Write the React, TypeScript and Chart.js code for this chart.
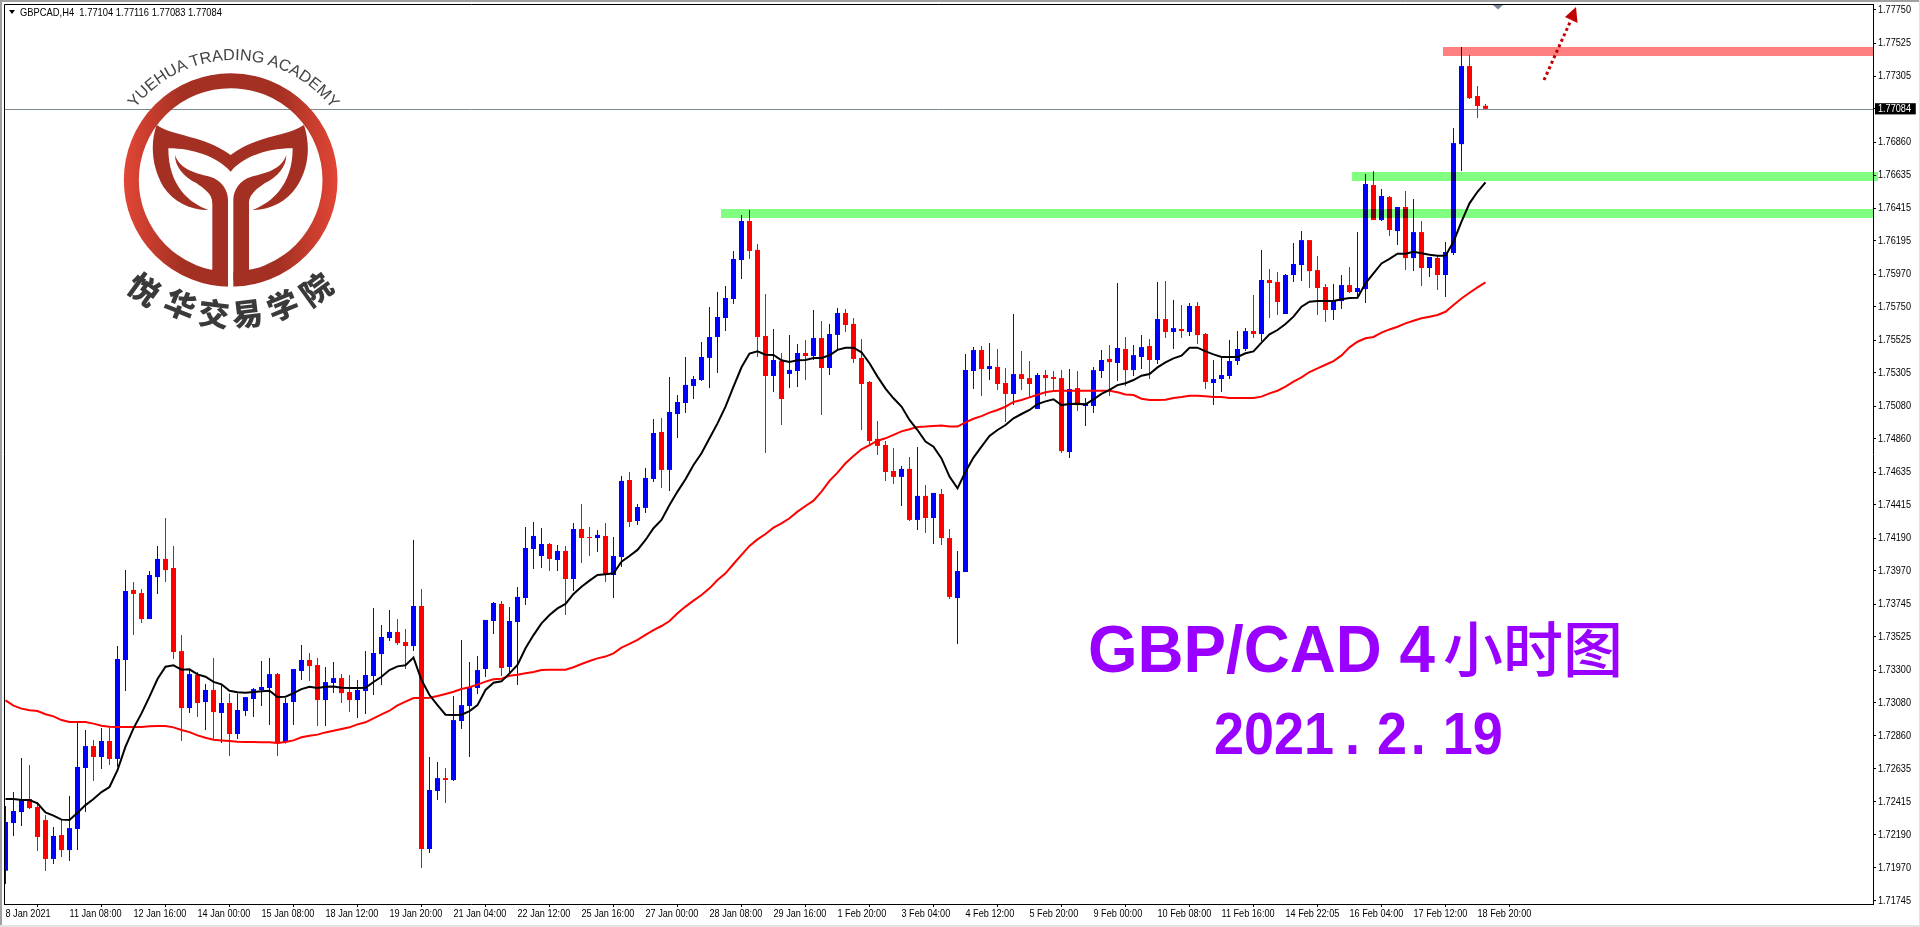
import React, { useEffect, useRef } from "react";
import { Chart, registerables } from "chart.js";

Chart.register(...registerables);

const AXIS_FONT = '"Liberation Sans", sans-serif';
const AXIS_TEXT_SQUEEZE = 0.83;

const timeLabels = ["8 Jan 2021","11 Jan 08:00","12 Jan 16:00","14 Jan 00:00","15 Jan 08:00","18 Jan 12:00","19 Jan 20:00","21 Jan 04:00","22 Jan 12:00","25 Jan 16:00","27 Jan 00:00","28 Jan 08:00","29 Jan 16:00","1 Feb 20:00","3 Feb 04:00","4 Feb 12:00","5 Feb 20:00","9 Feb 00:00","10 Feb 08:00","11 Feb 16:00","14 Feb 22:05","16 Feb 04:00","17 Feb 12:00","18 Feb 20:00"];
const barsPerLabel = 8;

const priceTicks = [1.7775,1.77525,1.77305,1.77084,1.7686,1.76635,1.76415,1.76195,1.7597,1.7575,1.75525,1.75305,1.7508,1.7486,1.74635,1.74415,1.7419,1.7397,1.73745,1.73525,1.733,1.7308,1.7286,1.72635,1.72415,1.7219,1.7197,1.71745];
const currentPrice = 1.77084;

const opens = [1.71949,1.7227,1.72344,1.72432,1.72378,1.7229,1.72028,1.72189,1.72088,1.7223,1.72641,1.72789,1.72715,1.72823,1.72702,1.73369,1.73841,1.7382,1.73645,1.73928,1.7405,1.73989,1.73429,1.73045,1.73268,1.73086,1.73167,1.73012,1.73079,1.7287,1.73025,1.73106,1.73167,1.7318,1.73274,1.72816,1.73086,1.73295,1.73369,1.73335,1.73099,1.73214,1.73247,1.73153,1.73099,1.7316,1.73261,1.73409,1.73517,1.73558,1.7349,1.73463,1.73733,1.72095,1.72486,1.72573,1.7256,1.72958,1.73059,1.7318,1.73308,1.73632,1.73747,1.73322,1.73625,1.73787,1.74117,1.7407,1.74151,1.74043,1.74104,1.73915,1.74252,1.74198,1.74191,1.74205,1.73942,1.74063,1.74582,1.74306,1.74394,1.74589,1.74906,1.7465,1.75027,1.75101,1.75216,1.75256,1.75405,1.75546,1.75674,1.75802,1.76065,1.76328,1.76133,1.75553,1.75283,1.75384,1.75297,1.75317,1.75438,1.75418,1.75539,1.75337,1.7556,1.75708,1.75634,1.75405,1.75243,1.74859,1.74818,1.74643,1.74603,1.74657,1.74313,1.74475,1.74326,1.74488,1.74191,1.73787,1.73962,1.75317,1.75458,1.7533,1.75344,1.75236,1.75162,1.75296,1.75269,1.75061,1.7529,1.75276,1.75269,1.74771,1.75202,1.75081,1.75081,1.75317,1.75398,1.75371,1.75465,1.75323,1.75411,1.75485,1.75391,1.75667,1.7558,1.756,1.7558,1.75755,1.75566,1.75236,1.75263,1.75283,1.75384,1.75465,1.75586,1.75566,1.7593,1.75917,1.75701,1.75964,1.76031,1.76199,1.75997,1.75883,1.75728,1.75788,1.75896,1.75849,1.75869,1.7657,1.76334,1.76489,1.7626,1.76422,1.76078,1.76253,1.76011,1.76078,1.75964,1.76112,1.76846,1.77372,1.7717,1.77104];
const closes = [1.72277,1.72351,1.72425,1.72371,1.72176,1.72028,1.72183,1.72088,1.72236,1.72648,1.72789,1.72715,1.72823,1.72702,1.73376,1.73834,1.73814,1.73645,1.73942,1.7405,1.73975,1.73423,1.73045,1.73274,1.73079,1.73167,1.73018,1.73079,1.7287,1.73032,1.73119,1.73173,1.73187,1.73274,1.72809,1.73079,1.73308,1.73369,1.73328,1.73099,1.7322,1.73247,1.73146,1.73099,1.73167,1.73268,1.73416,1.73524,1.73558,1.73483,1.73463,1.73733,1.72095,1.72493,1.72573,1.7256,1.72964,1.73065,1.73187,1.73301,1.73639,1.73753,1.73315,1.73632,1.73794,1.74124,1.74205,1.74151,1.7405,1.74104,1.73915,1.74252,1.74191,1.74191,1.74212,1.73942,1.7407,1.74576,1.74299,1.744,1.74596,1.74899,1.7465,1.75041,1.75108,1.75223,1.75263,1.75411,1.75546,1.75681,1.75809,1.76072,1.76328,1.76126,1.75546,1.75283,1.75391,1.75128,1.75324,1.75438,1.75418,1.75539,1.75337,1.75566,1.75708,1.75627,1.75398,1.75229,1.74845,1.74812,1.74636,1.74603,1.74657,1.74313,1.74475,1.74326,1.74495,1.74191,1.73794,1.73969,1.75323,1.75458,1.7533,1.7535,1.75229,1.75162,1.75296,1.75263,1.75229,1.7529,1.75269,1.75263,1.74777,1.75195,1.75087,1.75094,1.75323,1.75391,1.75377,1.75472,1.75323,1.75424,1.75478,1.75391,1.75667,1.7558,1.75606,1.75586,1.75755,1.75559,1.75243,1.75263,1.7529,1.75384,1.75465,1.75586,1.75566,1.7593,1.7591,1.75782,1.75964,1.76038,1.76199,1.7599,1.75876,1.75728,1.75795,1.75896,1.75849,1.75876,1.76577,1.76334,1.76496,1.76267,1.76422,1.76078,1.76253,1.76011,1.76085,1.75964,1.76119,1.76853,1.77372,1.77156,1.77103,1.77084];
const highs = [1.72385,1.72479,1.72708,1.72661,1.72412,1.72324,1.72243,1.7229,1.72452,1.72944,1.72897,1.7283,1.7291,1.72919,1.73463,1.73975,1.73895,1.73847,1.73969,1.74137,1.74326,1.74137,1.73537,1.73301,1.73288,1.73207,1.73382,1.732,1.73144,1.73144,1.73119,1.7318,1.73362,1.73382,1.73281,1.73113,1.73308,1.7347,1.73416,1.73382,1.73322,1.73355,1.73274,1.73268,1.73234,1.73429,1.73719,1.73605,1.73706,1.73645,1.73578,1.74178,1.73847,1.72715,1.72681,1.72641,1.73126,1.73504,1.73355,1.73396,1.73639,1.7376,1.73767,1.73726,1.73861,1.74266,1.74299,1.74259,1.74158,1.74144,1.74138,1.74293,1.74421,1.74266,1.74245,1.74293,1.74198,1.74609,1.74636,1.74421,1.74663,1.74994,1.75,1.75277,1.75155,1.75411,1.75283,1.75513,1.75748,1.7585,1.7589,1.76126,1.76368,1.76402,1.76173,1.75836,1.756,1.75438,1.7556,1.75499,1.75526,1.75728,1.75654,1.75634,1.75742,1.75735,1.75674,1.75533,1.7525,1.7498,1.74845,1.74798,1.74677,1.74737,1.74805,1.74549,1.74495,1.74522,1.74252,1.74104,1.75431,1.75478,1.75485,1.75505,1.75465,1.75337,1.75701,1.75451,1.75384,1.75303,1.75323,1.75317,1.75323,1.7533,1.75317,1.75135,1.75344,1.75458,1.75492,1.7591,1.75546,1.75492,1.75559,1.75532,1.75917,1.75923,1.75795,1.75761,1.75775,1.75782,1.75573,1.75391,1.75404,1.75526,1.75586,1.75606,1.75829,1.76132,1.76004,1.75984,1.7597,1.76179,1.7626,1.76199,1.76092,1.75903,1.75903,1.75964,1.76017,1.76253,1.76644,1.76664,1.76543,1.76496,1.76422,1.7653,1.76476,1.76327,1.76085,1.76098,1.76186,1.76954,1.775,1.77446,1.77237,1.77116];
const lows = [1.71859,1.72183,1.7225,1.72364,1.72081,1.71947,1.71994,1.72041,1.72014,1.72088,1.72344,1.72553,1.72634,1.72661,1.7265,1.7316,1.73537,1.73618,1.73645,1.73814,1.73895,1.73376,1.72823,1.73012,1.72985,1.72897,1.7283,1.72809,1.72722,1.72836,1.72991,1.72985,1.73059,1.72931,1.72722,1.72807,1.72931,1.73234,1.73227,1.72924,1.72924,1.73146,1.73079,1.73018,1.72978,1.73005,1.73133,1.732,1.73497,1.7347,1.73308,1.73429,1.71967,1.72068,1.72425,1.72405,1.72553,1.72904,1.72715,1.7314,1.73254,1.73544,1.73261,1.73279,1.73201,1.7374,1.73982,1.73989,1.73969,1.73969,1.73672,1.73834,1.74023,1.7407,1.74097,1.73895,1.73787,1.73996,1.74266,1.74279,1.7436,1.74569,1.74528,1.74508,1.74865,1.75034,1.75128,1.7525,1.75202,1.75304,1.75587,1.75769,1.75937,1.76072,1.75411,1.74764,1.75176,1.74953,1.75202,1.75209,1.75256,1.75391,1.7502,1.7529,1.75459,1.7558,1.75371,1.74919,1.74818,1.74751,1.74576,1.74555,1.74407,1.74306,1.74245,1.74225,1.74151,1.74144,1.7378,1.73477,1.73962,1.75195,1.75148,1.75256,1.75189,1.74973,1.75087,1.75189,1.75141,1.75061,1.75148,1.75182,1.74764,1.7473,1.75047,1.74946,1.75034,1.75269,1.75148,1.75249,1.75216,1.75283,1.7533,1.75263,1.75364,1.75539,1.75465,1.75539,1.75553,1.75499,1.75195,1.75087,1.75175,1.75263,1.75357,1.75451,1.75539,1.75519,1.75674,1.75694,1.75701,1.75916,1.75923,1.75876,1.75694,1.75647,1.7566,1.75734,1.75842,1.75808,1.75775,1.76334,1.76327,1.76226,1.76166,1.75997,1.7599,1.75889,1.7595,1.75862,1.75815,1.76098,1.76664,1.7715,1.77022,1.77083];

const blackMa = [1.72432,1.72432,1.72425,1.72425,1.72403,1.72342,1.7232,1.72293,1.7229,1.7234,1.72391,1.72432,1.72479,1.72513,1.72627,1.72785,1.72908,1.73009,1.73122,1.73241,1.73324,1.73333,1.73304,1.73306,1.73272,1.73256,1.73221,1.73205,1.73162,1.73151,1.73149,1.73153,1.73158,1.73162,1.73119,1.73122,1.73146,1.73173,1.73189,1.7318,1.73189,1.73191,1.73182,1.7318,1.7318,1.73182,1.73221,1.73256,1.73301,1.73326,1.73333,1.73385,1.73234,1.73133,1.73065,1.73,1.72998,1.73,1.73025,1.73065,1.73167,1.73216,1.73225,1.73279,1.73335,1.73448,1.73537,1.73616,1.73672,1.73717,1.73747,1.73814,1.73863,1.73904,1.73942,1.73947,1.73953,1.74032,1.7407,1.74111,1.74178,1.74257,1.74313,1.74414,1.74504,1.74587,1.74683,1.74762,1.74863,1.74964,1.75077,1.75211,1.75342,1.75434,1.7545,1.75427,1.75425,1.75389,1.75378,1.75389,1.75391,1.75405,1.75405,1.75423,1.75459,1.75474,1.75474,1.75443,1.75369,1.75279,1.75198,1.75133,1.75077,1.74987,1.74919,1.74841,1.74807,1.74728,1.74605,1.74526,1.74638,1.74733,1.74807,1.74879,1.74919,1.74953,1.74998,1.75027,1.75054,1.75094,1.75112,1.75126,1.75087,1.75094,1.75096,1.75092,1.75126,1.75162,1.75189,1.75222,1.75234,1.75256,1.75285,1.75296,1.75341,1.75375,1.75402,1.7542,1.75474,1.75474,1.75449,1.75429,1.75411,1.75411,1.75411,1.75436,1.75449,1.75508,1.75564,1.75593,1.75633,1.75683,1.7575,1.75784,1.75788,1.75788,1.75788,1.758,1.75809,1.75811,1.75908,1.75975,1.76042,1.76072,1.76107,1.76107,1.76121,1.7611,1.76101,1.76094,1.76094,1.76188,1.76323,1.76447,1.76525,1.76588];
const redMa = [1.73097,1.73061,1.73041,1.7303,1.73025,1.73003,1.72989,1.72964,1.72951,1.72951,1.72951,1.7294,1.72926,1.72919,1.72917,1.72917,1.72917,1.72917,1.72922,1.72924,1.72924,1.72915,1.72897,1.72883,1.72861,1.72845,1.72832,1.72827,1.72823,1.72818,1.72816,1.72816,1.72814,1.72814,1.72809,1.72816,1.72827,1.72848,1.72859,1.72866,1.72881,1.72892,1.72904,1.72915,1.72935,1.72949,1.72976,1.73003,1.73027,1.73063,1.73088,1.73113,1.73113,1.73115,1.73126,1.7314,1.73155,1.73173,1.73185,1.73203,1.73223,1.73239,1.73243,1.73263,1.7327,1.73279,1.73288,1.73302,1.73304,1.73304,1.73304,1.7332,1.73342,1.73362,1.7338,1.73392,1.73414,1.73452,1.73477,1.73504,1.73538,1.73571,1.73598,1.73632,1.73684,1.73729,1.73769,1.73807,1.73852,1.73908,1.73953,1.74016,1.74077,1.74138,1.74182,1.74218,1.74261,1.7429,1.74324,1.74369,1.74407,1.74443,1.74504,1.74576,1.74632,1.74695,1.74744,1.74789,1.74818,1.74847,1.74863,1.74886,1.7491,1.74924,1.7494,1.74942,1.74946,1.74949,1.74942,1.74942,1.74971,1.74995,1.75013,1.75036,1.75054,1.75076,1.75108,1.75121,1.75139,1.75157,1.75173,1.75182,1.75184,1.75184,1.75184,1.75184,1.75184,1.75184,1.75184,1.75173,1.75159,1.75155,1.7513,1.75121,1.75121,1.75123,1.75135,1.75141,1.7515,1.7515,1.75146,1.75141,1.75141,1.75135,1.75135,1.75135,1.75135,1.75144,1.75166,1.75184,1.75211,1.75245,1.75274,1.7531,1.75335,1.75359,1.75384,1.75422,1.75476,1.75514,1.75537,1.75546,1.75575,1.75597,1.75615,1.75638,1.75656,1.75672,1.75683,1.75694,1.75716,1.75761,1.75806,1.75844,1.7588,1.75914];

// Horizontal zones: start bar index, end bar index (null = to the axis), upper and lower price
const zoneStart = [89.44, 168.3, 179.7];
const zoneEnd = [null, 234.06, null];
const zoneHigh = [1.76409, 1.76658, 1.77501];
const zoneLow = [1.76348, 1.76597, 1.7744];
const zoneColor = ["#80FF80", "#80FF80", "#FF8080"];

const BLUE = "#0000FF";
const RED = "#FF0000";

const frontPlugin = {
  id: "mt4Overlay",
  beforeDraw(chart: any) {
    const { ctx, width, height } = chart;
    ctx.save();
    ctx.fillStyle = "#a0a0a0";
    ctx.fillRect(0, 0, width, 2);
    ctx.fillRect(0, 0, 2, height);
    ctx.fillStyle = "#e3e3e3";
    ctx.fillRect(0, height - 2, width, 2);
    ctx.fillRect(width - 1, 0, 1, height);
    ctx.restore();
  },
  beforeDatasetsDraw(chart: any) {
    const { ctx, chartArea, scales } = chart;
    const y = Math.round(scales.y.getPixelForValue(currentPrice)) + 0.5;
    ctx.save();
    ctx.strokeStyle = "#7A8A90";
    ctx.lineWidth = 1;
    ctx.beginPath();
    ctx.moveTo(chartArea.left, y);
    ctx.lineTo(chartArea.right, y);
    ctx.stroke();
    ctx.restore();
  },
  afterDraw(chart: any) {
    const { ctx, chartArea, scales } = chart;
    ctx.save();
    ctx.strokeStyle = "#000";
    ctx.lineWidth = 1;
    ctx.beginPath();
    ctx.moveTo(chartArea.left + 0.5, chartArea.bottom);
    ctx.lineTo(chartArea.left + 0.5, chartArea.top + 0.5);
    ctx.lineTo(chartArea.right, chartArea.top + 0.5);
    ctx.stroke();
    ctx.globalCompositeOperation = "multiply";
    zoneStart.forEach((s, i) => {
      const x0 = Math.round(scales.x.getPixelForValue(s));
      const e = zoneEnd[i];
      const x1 = e === null ? chartArea.right : Math.round(scales.x.getPixelForValue(e));
      const y0 = Math.round(scales.y.getPixelForValue(zoneHigh[i]));
      const y1 = Math.round(scales.y.getPixelForValue(zoneLow[i]));
      ctx.fillStyle = zoneColor[i];
      ctx.fillRect(x0, y0, x1 - x0, y1 - y0);
    });
    ctx.restore();
  },
};

function Overlay() {
  const leafMirror = "translate(1384 0) scale(-1 1)";
  const stem = "M525,465 C540,510 590,520 630,530 C665,540 684,570 684,600 L684,835 C684,852 668,860 645,855 L600,840 L637,808 L637,610 C637,580 610,565 590,550 C550,530 525,500 525,465 Z";
  const cjk = [
    ["悦", 145, 288, 36],
    ["华", 181, 303, 22],
    ["交", 214, 312, 7],
    ["易", 247, 312, -7],
    ["学", 282, 304, -22],
    ["院", 315, 288, -36],
  ] as const;
  return (
    <svg width={1920} height={927} style={{ position: "absolute", left: 0, top: 0, pointerEvents: "none" }}>
      <defs>
        <linearGradient id="ringGrad" gradientUnits="userSpaceOnUse" x1={372} y1={0} x2={1012} y2={0}>
          <stop offset="0" stopColor="#E24636" />
          <stop offset="0.28" stopColor="#A33022" />
          <stop offset="0.72" stopColor="#A33022" />
          <stop offset="1" stopColor="#E24636" />
        </linearGradient>
        <path id="arcTop" d="M405,325 A372.6,372.6 0 0 1 995,325" fill="none" />
      </defs>
      <polygon points="9,10 15,10 12,14" fill="#000" />
      <text x={20} y={16} fontFamily={AXIS_FONT} fontSize={11} fill="#000" textLength={202} lengthAdjust="spacingAndGlyphs" xmlSpace="preserve">GBPCAD,H4  1.77104 1.77116 1.77083 1.77084</text>

      <g transform="scale(0.33333)">
        <circle cx={692} cy={540} r={298} fill="none" stroke="url(#ringGrad)" strokeWidth={45} />
        <rect x={684} y={760} width={16} height={110} fill="#fff" />
        <path d="M470,375 C520,410 610,405 692,465 C770,405 860,410 912,375 C930,430 930,500 890,560 C860,605 810,630 758,630 C810,610 878,560 878,445 C800,445 730,470 692,515 C650,470 580,445 505,445 C505,560 570,610 625,630 C570,630 520,605 490,560 C455,500 450,430 470,375 Z" fill="#A33022" />
        <path d={stem} fill="#A33022" />
        <path d={stem} fill="#A33022" transform={leafMirror} />
        <text fontFamily='"Liberation Sans", sans-serif' fontSize={48} fill="#444">
          <textPath href="#arcTop" textLength={683} lengthAdjust="spacingAndGlyphs">YUEHUA TRADING ACADEMY</textPath>
        </text>
      </g>
      {cjk.map(([c, x, y, r]) => (
        <text key={c} x={0} y={0} transform={`translate(${x} ${y}) rotate(${r})`} textAnchor="middle" dominantBaseline="central" fontFamily='"Noto Sans CJK SC"' fontWeight={900} fontSize={31} fill="#3a3a3a">{c}</text>
      ))}

      <line x1={1544} y1={80} x2={1571} y2={20} stroke="#C00000" strokeWidth={3} strokeDasharray="3 3" />
      <polygon points="1576,7 1565,17 1577.5,23" fill="#C00000" />
      <polygon points="1493,5 1503,5 1498,9.5" fill="#778899" />

      <text x={1088} y={672} fontFamily='"Liberation Sans", sans-serif' fontWeight={700} fontSize={67} fill="#9900FF" textLength={347} lengthAdjust="spacingAndGlyphs">GBP/CAD 4</text>
      <text x={1443} y={672} fontFamily='"Noto Sans CJK SC"' fontWeight={500} fontSize={60} fill="#9900FF">小时图</text>
      <text transform="translate(1214 754) scale(0.9 1)" fontFamily='"Liberation Sans", sans-serif' fontWeight={700} fontSize={60} fill="#9900FF" dx="0 0 0 0 12 19 4 19 0">2021.2.19</text>
    </svg>
  );
}

export default function App() {
  const ref = useRef<HTMLCanvasElement>(null);
  useEffect(() => {
    const canvas = ref.current as HTMLCanvasElement;
    const rawCtx = canvas.getContext("2d") as any;
    // The axis labels in the reference are condensed: squeeze the library's own tick text to that width.
    const fillText = rawCtx.fillText.bind(rawCtx);
    rawCtx.fillText = (t: string, x: number, y: number) => {
      fillText(t, x, y, rawCtx.measureText(t).width * AXIS_TEXT_SQUEEZE);
    };
    const idx = opens.map((_, i) => i);
    const colors = idx.map((i) => (closes[i] >= opens[i] ? BLUE : RED));
    const chart = new Chart(canvas, {
      type: "bar",
      data: {
        datasets: [
          { type: "line", label: "MA fast", data: idx.map((i) => ({ x: i, y: blackMa[i] })), borderColor: "#000", borderWidth: 2, pointRadius: 0, tension: 0, order: 1 },
          { type: "line", label: "MA slow", data: idx.map((i) => ({ x: i, y: redMa[i] })), borderColor: RED, borderWidth: 2, pointRadius: 0, tension: 0, order: 2 },
          { label: "Body", data: idx.map((i) => ({ x: i, y: [opens[i], closes[i]] })), backgroundColor: colors, grouped: false, barPercentage: 1, categoryPercentage: 1, maxBarThickness: 5, minBarLength: 1, inflateAmount: 0, order: 3 },
          { label: "Wick", data: idx.map((i) => ({ x: i, y: [lows[i], highs[i]] })), backgroundColor: colors, grouped: false, barPercentage: 1, categoryPercentage: 1, maxBarThickness: 1, minBarLength: 1, inflateAmount: 0, order: 4 },
        ] as any,
      },
      options: {
        responsive: false,
        animation: false,
        events: [],
        layout: { padding: { top: 4, left: 4, right: 0, bottom: 0 } },
        plugins: { legend: { display: false }, tooltip: { enabled: false }, title: { display: false } },
        scales: {
          x: {
            type: "linear",
            offset: false,
            min: -0.1875,
            max: 233.4375,
            afterBuildTicks(scale: any) {
              scale.ticks = timeLabels.map((_, i) => ({ value: i * barsPerLabel }));
            },
            afterFit(scale: any) {
              scale.height = 23;
              scale.paddingLeft = 0;
              scale.paddingRight = 0;
            },
            grid: { display: true, drawOnChartArea: false, drawTicks: true, tickLength: 3, tickColor: "#000", tickWidth: 1 },
            border: { display: true, color: "#000", width: 1 },
            ticks: {
              autoSkip: false,
              maxRotation: 0,
              minRotation: 0,
              align: "start",
              padding: 0,
              color: "#000",
              font: { family: AXIS_FONT, size: 11 },
              callback: (v: any) => timeLabels[Math.round(Number(v) / barsPerLabel)] ?? "",
            },
          },
          y: {
            type: "linear",
            position: "right",
            min: 1.717244,
            max: 1.777904,
            afterBuildTicks(scale: any) {
              scale.ticks = priceTicks.map((value) => ({ value }));
            },
            afterFit(scale: any) {
              scale.width = 47;
              scale.paddingTop = 0;
              scale.paddingBottom = 0;
            },
            grid: { display: true, drawOnChartArea: false, drawTicks: true, tickLength: 3, tickColor: "#000", tickWidth: 1 },
            border: { display: true, color: "#000", width: 1 },
            ticks: {
              autoSkip: false,
              padding: 2,
              color: (c: any) => (c.tick?.value === currentPrice ? "#fff" : "#000"),
              showLabelBackdrop: (c: any) => c.tick?.value === currentPrice,
              backdropColor: "#000",
              backdropPadding: { top: -1, bottom: -1, left: 3, right: -2 },
              font: { family: AXIS_FONT, size: 11 },
              callback: (v: any) => Number(v).toFixed(5),
            },
          },
        },
      } as any,
      plugins: [frontPlugin],
    });
    return () => {
      chart.destroy();
      delete rawCtx.fillText;
    };
  }, []);

  return (
    <>
      <style>{"html,body{margin:0;padding:0;background:#fff;overflow:hidden}"}</style>
      <div style={{ position: "relative", width: 1920, height: 927, overflow: "hidden", background: "#fff" }}>
        <canvas ref={ref} width={1920} height={927} style={{ display: "block", width: 1920, height: 927 }} />
        <Overlay />
      </div>
    </>
  );
}
